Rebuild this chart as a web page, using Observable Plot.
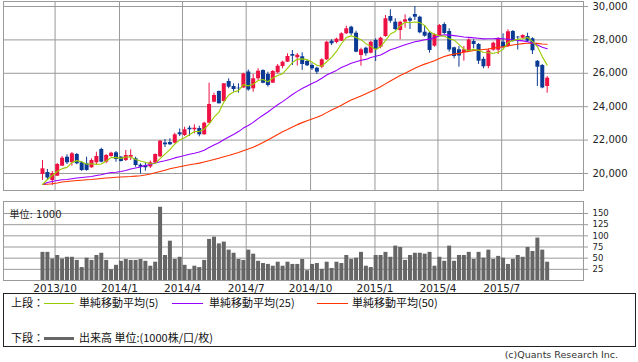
<!DOCTYPE html>
<html><head><meta charset="utf-8">
<script src="https://cdn.jsdelivr.net/npm/d3@7"></script>
<script src="https://cdn.jsdelivr.net/npm/@observablehq/plot@0.6"></script>
<style>
body{margin:0;background:#fff;}
#wrap{position:relative;width:638px;height:362px;overflow:hidden;font-family:"DejaVu Sans","Noto Sans CJK JP",sans-serif;}
#top{position:absolute;left:0;top:0;}
#vol{position:absolute;left:0;top:195px;}
#legend{position:absolute;left:3px;top:293px;width:633px;height:54px;border:1px solid #222;box-sizing:border-box;}
.lg{position:absolute;font-family:"Noto Sans CJK JP",sans-serif;font-size:11px;line-height:14px;color:#111;white-space:nowrap;}
.ln{position:absolute;height:1px;}
#cap{position:absolute;right:20px;top:349px;font-size:9.5px;color:#333;font-family:"DejaVu Sans",sans-serif;}
</style></head>
<body><div id="wrap"><div id="top"></div><div id="vol"></div>
<div id="legend"></div><div id="cap">(c)Quants Research Inc.</div></div>
<script>
const dates = ["2013-09-13","2013-09-20","2013-09-27","2013-10-04","2013-10-11","2013-10-18","2013-10-25","2013-11-01","2013-11-08","2013-11-15","2013-11-22","2013-11-29","2013-12-06","2013-12-13","2013-12-20","2013-12-27",
"2014-01-03","2014-01-10","2014-01-17","2014-01-24","2014-01-31","2014-02-07","2014-02-14","2014-02-21","2014-02-28","2014-03-07","2014-03-14","2014-03-21","2014-03-28","2014-04-04","2014-04-11","2014-04-18","2014-04-25","2014-05-02","2014-05-09","2014-05-16","2014-05-23","2014-05-30","2014-06-06","2014-06-13","2014-06-20","2014-06-27","2014-07-04","2014-07-11","2014-07-18","2014-07-25","2014-08-01","2014-08-08","2014-08-15","2014-08-22","2014-08-29","2014-09-05","2014-09-12","2014-09-19","2014-09-26","2014-10-03","2014-10-10","2014-10-17","2014-10-24","2014-10-31","2014-11-07","2014-11-14","2014-11-21","2014-11-28","2014-12-05","2014-12-12","2014-12-19","2014-12-26",
"2015-01-02","2015-01-09","2015-01-16","2015-01-23","2015-01-30","2015-02-06","2015-02-13","2015-02-20","2015-02-27","2015-03-06","2015-03-13","2015-03-20","2015-03-27","2015-04-03","2015-04-10","2015-04-17","2015-04-24","2015-05-01","2015-05-08","2015-05-15","2015-05-22","2015-05-29","2015-06-05","2015-06-12","2015-06-19","2015-06-26","2015-07-03","2015-07-10","2015-07-17","2015-07-24","2015-07-31","2015-08-07","2015-08-14","2015-08-21","2015-08-28","2015-09-04"];
const open = [19940,20060,19581,19838,20437,20976,20641,21138,20641,20581,20341,20641,21437,20677,21018,21240,20976,20778,20976,20880,20497,20479,20389,20629,21000,21826,21856,21814,22437,22275,22713,22617,22695,22317,23012,24269,24910,24311,25509,25210,25108,25120,26078,25072,25671,26168,25928,25407,26030,26407,26665,27126,26928,26988,26707,26467,26305,26365,26808,27922,27844,27922,28365,28760,28401,27066,27503,27204,27964,27563,28204,29401,29060,28563,29060,29264,29521,29359,28461,28401,27623,28263,28922,28503,27527,27407,27245,27317,27904,27725,26838,26407,27383,27383,27862,27605,28503,28162,28102,28204,28066,26719,26467,25210];
const high = [20778,20240,20120,20599,21018,21120,21257,21198,20719,20976,20880,21275,21515,21138,21275,21317,21018,21377,21419,20976,20581,20641,20748,21168,21976,22036,22078,22413,22665,22772,22832,22916,22832,23072,25407,24808,24940,25389,25671,25371,25371,26006,26198,25928,26270,26210,26066,26168,26527,26725,27168,27365,27186,27228,26808,26569,26365,26868,27922,28006,28102,28425,28820,28820,28521,27503,27563,27922,28066,28162,29461,29802,29264,29120,29503,29359,30000,29419,28862,28461,28365,28922,29024,28665,27563,27605,27605,28066,28006,27784,26964,27467,27862,28126,28365,28605,28563,28204,28305,28401,28126,26766,26527,25808];
const low = [19581,19611,19281,19820,20419,20539,20437,20521,20120,20138,20317,20539,20641,20581,20976,20677,20689,20719,20778,20377,19982,20138,20299,20599,20958,21557,21677,21778,22216,22216,22216,22377,22198,22293,22976,24233,24162,24293,25072,24868,24808,25108,24928,24868,25569,25371,25168,25407,25970,26270,26647,26467,26437,26168,26407,26168,25928,26270,26766,27665,27766,27904,28323,28263,27228,26425,27024,27168,26707,27467,28162,29000,28563,28006,28701,28623,29162,28365,28162,27204,27563,28222,28323,27264,26868,26365,26725,27305,27467,26527,26270,26270,27323,27126,27467,27563,27862,27395,28066,27862,27126,25210,25072,24808];
const close = [20281,19731,20000,20539,20916,20641,21180,20581,20180,20180,20778,21018,20677,21078,21216,20838,20719,21078,21078,20479,20377,20341,20641,21138,21934,21719,21719,22317,22317,22617,22617,22713,22317,23012,24132,24671,24174,25371,25168,25030,25072,25958,25000,25671,26126,25407,25269,26108,26425,26665,27006,27024,27084,26527,26449,26270,26066,26808,27862,27766,28042,28365,28665,28365,27264,27407,27168,27862,27407,28102,29264,29120,28623,29060,29204,29120,29359,28425,28222,27365,28305,28862,28383,27395,27006,27036,27407,27994,27725,26725,26389,27335,27802,28066,27563,28485,27904,28126,28263,27922,27347,26365,25120,25707];
const volume = [63,63,48,56,48,52,52,45,29,50,45,56,61,45,24,34,43,47,45,45,47,43,32,41,164,56,88,47,52,34,24,32,29,45,92,97,82,86,68,61,47,45,68,59,43,38,36,32,41,32,41,36,36,47,22,36,38,25,41,27,41,38,56,47,50,63,32,29,56,56,63,52,77,74,45,56,61,61,59,63,32,52,43,77,43,56,56,63,47,63,50,68,47,54,50,36,47,56,52,74,65,95,68,41];
const ma5 = [19341,19641,19880,20120,20293,20365,20655,20771,20700,20552,20580,20547,20567,20746,20953,20965,20906,20986,20986,20838,20746,20671,20583,20595,20886,21155,21430,21765,22001,22138,22317,22516,22516,22655,22958,23369,23661,24272,24703,24883,24963,25320,25246,25346,25565,25632,25495,25716,25867,25975,26295,26646,26841,26861,26818,26671,26479,26424,26691,26954,27309,27769,28140,28241,28140,28013,27774,27613,27422,27589,27961,28351,28503,28834,29054,29025,29073,29034,28866,28498,28335,28236,28227,28062,27990,27736,27445,27368,27434,27377,27248,27234,27195,27263,27431,27850,27964,28029,28068,28140,27912,27600,26999,26488];
const ma25 = [19341,19461,19521,19581,19623,19641,19683,19731,19760,19790,19820,19880,19922,20000,20060,20078,20120,20180,20269,20329,20389,20479,20539,20629,20705,20762,20842,20934,21006,21074,21153,21214,21283,21397,21555,21711,21837,22025,22188,22341,22510,22720,22876,23060,23286,23487,23684,23903,24115,24304,24515,24727,24918,25087,25240,25386,25520,25700,25894,26039,26174,26342,26473,26601,26691,26784,26832,26947,27016,27095,27250,27404,27504,27610,27711,27796,27889,27943,28011,28047,28129,28240,28303,28285,28254,28214,28176,28149,28123,28102,28061,28068,28065,28092,28070,28039,27990,27971,27939,27887,27816,27697,27564,27464];
const ma50 = [19341,19359,19383,19431,19491,19521,19551,19581,19599,19623,19641,19671,19701,19731,19749,19772,19790,19808,19820,19844,19868,19910,19970,20042,20120,20198,20281,20347,20407,20467,20521,20569,20623,20689,20760,20838,20916,21000,21078,21168,21257,21359,21461,21575,21707,21856,22006,22168,22335,22504,22639,22785,22926,23046,23157,23269,23367,23492,23645,23797,23942,24089,24249,24395,24516,24647,24776,24912,25038,25191,25368,25544,25704,25862,26008,26156,26308,26430,26549,26644,26757,26880,27002,27089,27147,27194,27259,27311,27362,27396,27423,27450,27506,27554,27583,27644,27697,27737,27774,27799,27806,27793,27754,27737];
const tickDates = ["2013-10-01","2014-01-01","2014-04-01","2014-07-01","2014-10-01","2015-01-01","2015-04-01","2015-07-01"];
const tickLabels = ["2013/10","2014/1","2014/4","2014/7","2014/10","2015/1","2015/4","2015/7"];
const priceTicks = [20000,22000,24000,26000,28000,30000];
const volTicks = [25,50,75,100,125,150];
const legendItems = ["単純移動平均(5)","単純移動平均(25)","単純移動平均(50)"];
const volumeLabel = "出来高 単位:(1000株/口/枚)";

const UP = "#ee1144", DOWN = "#0b3a94", GRID = "#9a9a9a";
const C5 = "#99cc00", C25 = "#9900ff", C50 = "#ff3300";
const rows = dates.map((d, i) => ({date: new Date(d), open: open[i], high: high[i], low: low[i], close: close[i], vol: volume[i], ma5: ma5[i], ma25: ma25[i], ma50: ma50[i], col: close[i] >= open[i] ? UP : DOWN}));
const tickD = tickDates.map(d => new Date(d));
const labelOf = new Map(tickD.map((d, i) => [+d, tickLabels[i]]));
const xDomain = [new Date("2013-07-19T07:00:00Z"), new Date("2015-10-25T22:00:00Z")];

const topPlot = Plot.plot({
  width: 638, height: 192, marginLeft: 3, marginRight: 55, marginTop: 1, marginBottom: 2,
  x: {type: "utc", domain: xDomain, axis: null},
  y: {domain: [18982, 30299], axis: null},
  color: {type: "identity"},
  style: {fontFamily: "DejaVu Sans", background: "transparent", overflow: "visible"},
  marks: [
    Plot.ruleY(priceTicks, {stroke: GRID}),
    Plot.ruleX(tickD, {stroke: GRID}),
    Plot.frame({stroke: GRID}),
    Plot.axisY(priceTicks, {anchor: "right", label: null, tickSize: 4, tickPadding: 5, tickFormat: d3.format(","), fontSize: 10, stroke: GRID, fill: "#222"}),
    Plot.ruleX(rows, {x: "date", y1: "low", y2: "high", stroke: "col", strokeWidth: 1}),
    Plot.ruleX(rows, {x: "date", y1: "open", y2: "close", stroke: "col", strokeWidth: 4}),
    Plot.lineY(rows, {x: "date", y: "ma50", stroke: C50, strokeWidth: 1.1}),
    Plot.lineY(rows, {x: "date", y: "ma25", stroke: C25, strokeWidth: 1.1}),
    Plot.lineY(rows, {x: "date", y: "ma5", stroke: C5, strokeWidth: 1.1})
  ]
});
document.getElementById("top").appendChild(topPlot);

const volPlot = Plot.plot({
  width: 638, height: 105, marginLeft: 3, marginRight: 55, marginTop: 6, marginBottom: 20,
  x: {type: "utc", domain: xDomain, axis: null},
  y: {domain: [0, 176.9], axis: null},
  style: {fontFamily: "DejaVu Sans", background: "transparent", overflow: "visible"},
  marks: [
    Plot.ruleY(volTicks, {stroke: GRID}),
    Plot.ruleX(tickD, {stroke: GRID}),
    Plot.ruleX(rows, {x: "date", y1: 0, y2: "vol", stroke: "#666666", strokeWidth: 4}),
    Plot.frame({stroke: GRID}),
    Plot.axisY(volTicks, {anchor: "right", label: null, tickSize: 4, tickPadding: 5, fontSize: 8.5, stroke: GRID, fill: "#222"}),
    Plot.axisX(tickD, {anchor: "bottom", label: null, tickSize: 0, tickPadding: 4, tickFormat: d => labelOf.get(+d), fontSize: 10.5, fill: "#222"}),
    Plot.text(["単位: 1000"], {frameAnchor: "top-left", dx: 6, dy: 9, textAnchor: "start", fontSize: 10, fill: "#222", fontFamily: "DejaVu Sans, Noto Sans CJK JP"})
  ]
});
document.getElementById("vol").appendChild(volPlot);

// legend
const lg = document.getElementById("legend");
function addText(t, x, y) { const s = document.createElement("div"); s.className = "lg"; s.textContent = t; s.style.left = (x - 3) + "px"; s.style.top = (y - 293 - 8) + "px"; lg.appendChild(s); }
function addLine(c, x1, x2, y, h) { const s = document.createElement("div"); s.className = "ln"; s.style.background = c; s.style.left = (x1 - 3) + "px"; s.style.width = (x2 - x1) + "px"; s.style.top = (y - 293 - h / 2) + "px"; s.style.height = h + "px"; lg.appendChild(s); }
addText("上段：", 10, 302);
addLine(C5, 43, 73, 302, 1); addText(legendItems[0], 78, 302);
addLine(C25, 171, 202, 302, 1); addText(legendItems[1], 208, 302);
addLine(C50, 316, 347, 302, 1); addText(legendItems[2], 351, 302);
addText("下段：", 10, 337);
addLine("#666666", 43, 73, 337, 3); addText(volumeLabel, 78, 337);
</script></body></html>
